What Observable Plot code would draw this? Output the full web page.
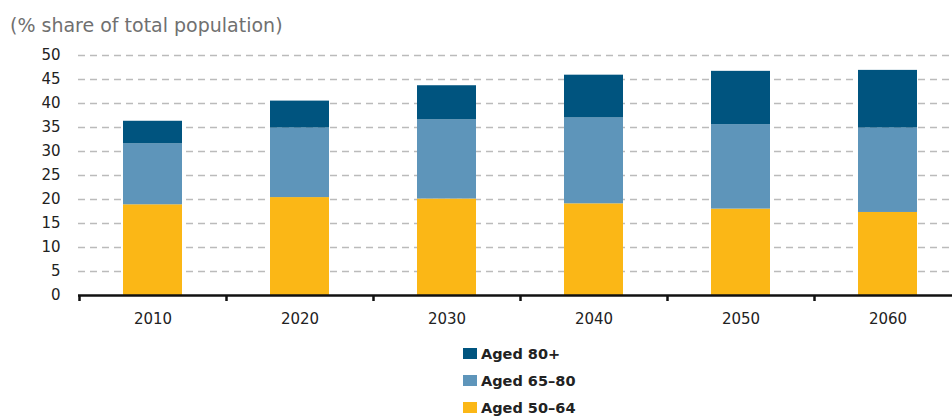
<!DOCTYPE html>
<html>
<head>
<meta charset="utf-8">
<script src="https://cdn.jsdelivr.net/npm/d3@7"></script>
<script src="https://cdn.jsdelivr.net/npm/@observablehq/plot@0.6"></script>
<style>
  html, body { margin: 0; padding: 0; background: #fff; }
  #wrap { position: relative; width: 952px; height: 416px; overflow: hidden; font-family: "DejaVu Sans", sans-serif; }
  #title { position: absolute; left: 10px; top: 14px; font-size: 19px; line-height: 22px; color: #707070; white-space: nowrap; }
  #chart { position: absolute; left: 0; top: 0; }
  #legend { position: absolute; left: 463px; top: 340px; }
  .row { display: flex; align-items: center; height: 27px; font-weight: 700; font-size: 14.5px; color: #222; }
  .sw { width: 14px; height: 11px; margin-right: 4px; }
</style>
</head>
<body>
<div id="wrap">
  <div id="chart"></div>
  <div id="title">(% share of total population)</div>
  <div id="legend"></div>
</div>
<script>
const years = ["2010", "2020", "2030", "2040", "2050", "2060"];
const groups = ["Aged 50–64", "Aged 65–80", "Aged 80+"];
const aged5064 = [18.9, 20.4, 20.1, 19.1, 18.0, 17.3];
const aged6580 = [12.7, 14.5, 16.5, 17.9, 17.6, 17.6];
const aged80 = [4.7, 5.6, 7.1, 8.9, 11.1, 12.0];
const colors = ["#fbb716", "#5e95ba", "#00547f"];
const yTicks = [0, 5, 10, 15, 20, 25, 30, 35, 40, 45, 50];
const legendOrder = ["Aged 80+", "Aged 65–80", "Aged 50–64"];

const series = [aged5064, aged6580, aged80];
const data = [];
years.forEach((y, i) => groups.forEach((g, j) => data.push({year: y, group: g, value: series[j][i]})));

const bandTicks = (index, scales, values, dims) => {
  const g = d3.create("svg:g");
  const y0 = scales.y(0);
  const step = scales.x(years[1]) - scales.x(years[0]);
  const bw = scales.x.bandwidth ? scales.x.bandwidth() : 0.4 * step;
  for (const yr of years) {
    const x = Math.round(scales.x(yr) - (step - bw) / 2) + 0.5;
    g.append("line").attr("x1", x).attr("x2", x).attr("y1", y0).attr("y2", y0 + 6)
      .attr("stroke", "#111").attr("stroke-width", 2.5);
  }
  return g.node();
};

const chart = Plot.plot({
  width: 952,
  height: 330,
  marginLeft: 78,
  marginRight: 0,
  marginTop: 55,
  marginBottom: 35,
  style: {fontFamily: "DejaVu Sans, sans-serif", fontSize: "15px", color: "#222", background: "transparent"},
  x: {domain: years, range: [78.5, 960.5], paddingInner: 0.6, paddingOuter: 0.3, label: null},
  y: {domain: [0, 50], label: null},
  color: {domain: groups, range: colors},
  marks: [
    Plot.gridY(yTicks.filter(d => d > 0), {stroke: "#bbb", strokeOpacity: 1, strokeWidth: 1.5, strokeDasharray: "7,5"}),
    Plot.barY(data, {x: "year", y: "value", fill: "group", order: groups}),
    Plot.ruleY([0], {stroke: "#111", strokeWidth: 2.5}),
    bandTicks,
    Plot.axisY({ticks: yTicks, tickSize: 0, tickPadding: 18, fill: "#222"}),
    Plot.axisX({tickSize: 0, tickPadding: 18, fill: "#222"})
  ]
});
document.getElementById("chart").appendChild(chart);

const legend = document.getElementById("legend");
for (const g of legendOrder) {
  const row = document.createElement("div");
  row.className = "row";
  const sw = document.createElement("div");
  sw.className = "sw";
  sw.style.background = colors[groups.indexOf(g)];
  const t = document.createElement("span");
  t.textContent = g;
  row.appendChild(sw); row.appendChild(t);
  legend.appendChild(row);
}
</script>
</body>
</html>
